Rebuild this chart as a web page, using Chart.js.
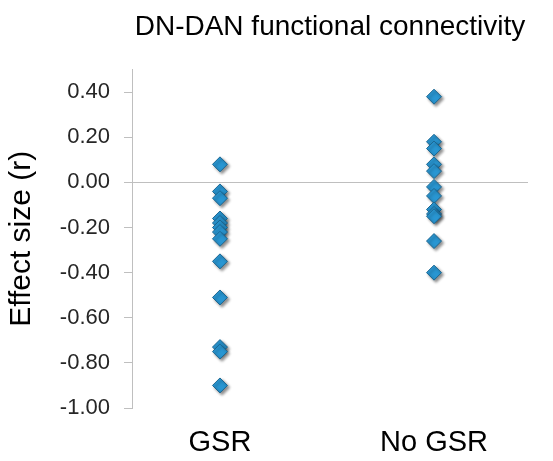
<!DOCTYPE html>
<html>
<head>
<meta charset="utf-8">
<script src="https://cdn.jsdelivr.net/npm/chart.js@4/dist/chart.umd.min.js"></script>
<style>
  html, body { margin: 0; padding: 0; background: #fff; }
  #wrap { width: 553px; height: 461px; }
</style>
</head>
<body>
<div id="wrap"><canvas id="chart"></canvas></div>
<script>
const categories = ["GSR", "No GSR"];
const gsrValues = [0.08, -0.04, -0.07, -0.16, -0.18, -0.2, -0.22, -0.25, -0.35, -0.51, -0.73, -0.75, -0.9];
const noGsrValues = [0.38, 0.18, 0.15, 0.08, 0.05, -0.02, -0.06, -0.12, -0.14, -0.15, -0.26, -0.4];
const yTicks = [0.4, 0.2, 0, -0.2, -0.4, -0.6, -0.8, -1.0];

const FONT = "'Liberation Sans', Arial, sans-serif";
const AXIS_GREY = "#bfbfbf";

// soft drop shadow under the markers, like the office chart
const markerShadow = {
  id: "markerShadow",
  beforeDatasetDraw(chart) {
    const ctx = chart.ctx;
    ctx.save();
    ctx.shadowColor = "rgba(0,0,0,0.45)";
    ctx.shadowBlur = 3;
    ctx.shadowOffsetX = 2;
    ctx.shadowOffsetY = 2;
  },
  afterDatasetDraw(chart) {
    chart.ctx.restore();
  },
};

const toPoints = (vals, i) => vals.map((v) => ({ x: i + 1, y: v }));

new Chart(document.getElementById("chart"), {
  type: "scatter",
  data: {
    datasets: [
      { label: categories[0], data: toPoints(gsrValues, 0) },
      { label: categories[1], data: toPoints(noGsrValues, 1) },
    ],
  },
  options: {
    responsive: true,
    maintainAspectRatio: false,
    animation: false,
    layout: { padding: { left: 0, right: 25, top: 0, bottom: 0 } },
    elements: {
      point: {
        pointStyle: "rectRot",
        radius: 7.5,
        hoverRadius: 7.5,
        backgroundColor: "#2996d2",
        borderColor: "#1c6690",
        borderWidth: 1,
      },
    },
    plugins: {
      legend: { display: false },
      tooltip: { enabled: false },
      title: {
        display: true,
        fullSize: false,
        text: "DN-DAN functional connectivity",
        color: "#000",
        font: { family: FONT, size: 28, weight: "normal" },
        padding: { top: 10, bottom: 26 },
      },
    },
    scales: {
      x: {
        type: "linear",
        min: 0.589,
        max: 2.439,
        afterBuildTicks: (s) => { s.ticks = categories.map((c, i) => ({ value: i + 1 })); },
        afterFit: (s) => { s.height = 53; },
        grid: { display: false },
        border: { display: false },
        ticks: {
          callback: (v) => categories[v - 1],
          color: "#000",
          font: { family: FONT, size: 29 },
          padding: 10,
          maxRotation: 0,
        },
      },
      y: {
        min: -1,
        max: 0.5,
        afterBuildTicks: (s) => { s.ticks = yTicks.map((v) => ({ value: v })); },
        afterFit: (s) => { s.width = 132; },
        grid: {
          color: (c) => (c.tick && c.tick.value === 0 ? AXIS_GREY : "rgba(0,0,0,0)"),
          tickColor: AXIS_GREY,
          tickLength: 8,
        },
        border: { color: AXIS_GREY, width: 1 },
        ticks: {
          callback: (v) => v.toFixed(2),
          color: "#262626",
          font: { family: FONT, size: 22 },
          padding: 14,
        },
        title: {
          display: true,
          text: "Effect size (r)",
          color: "#000",
          font: { family: FONT, size: 30 },
          padding: { top: 4, bottom: 4 },
        },
      },
    },
  },
  plugins: [markerShadow],
});
</script>
</body>
</html>
